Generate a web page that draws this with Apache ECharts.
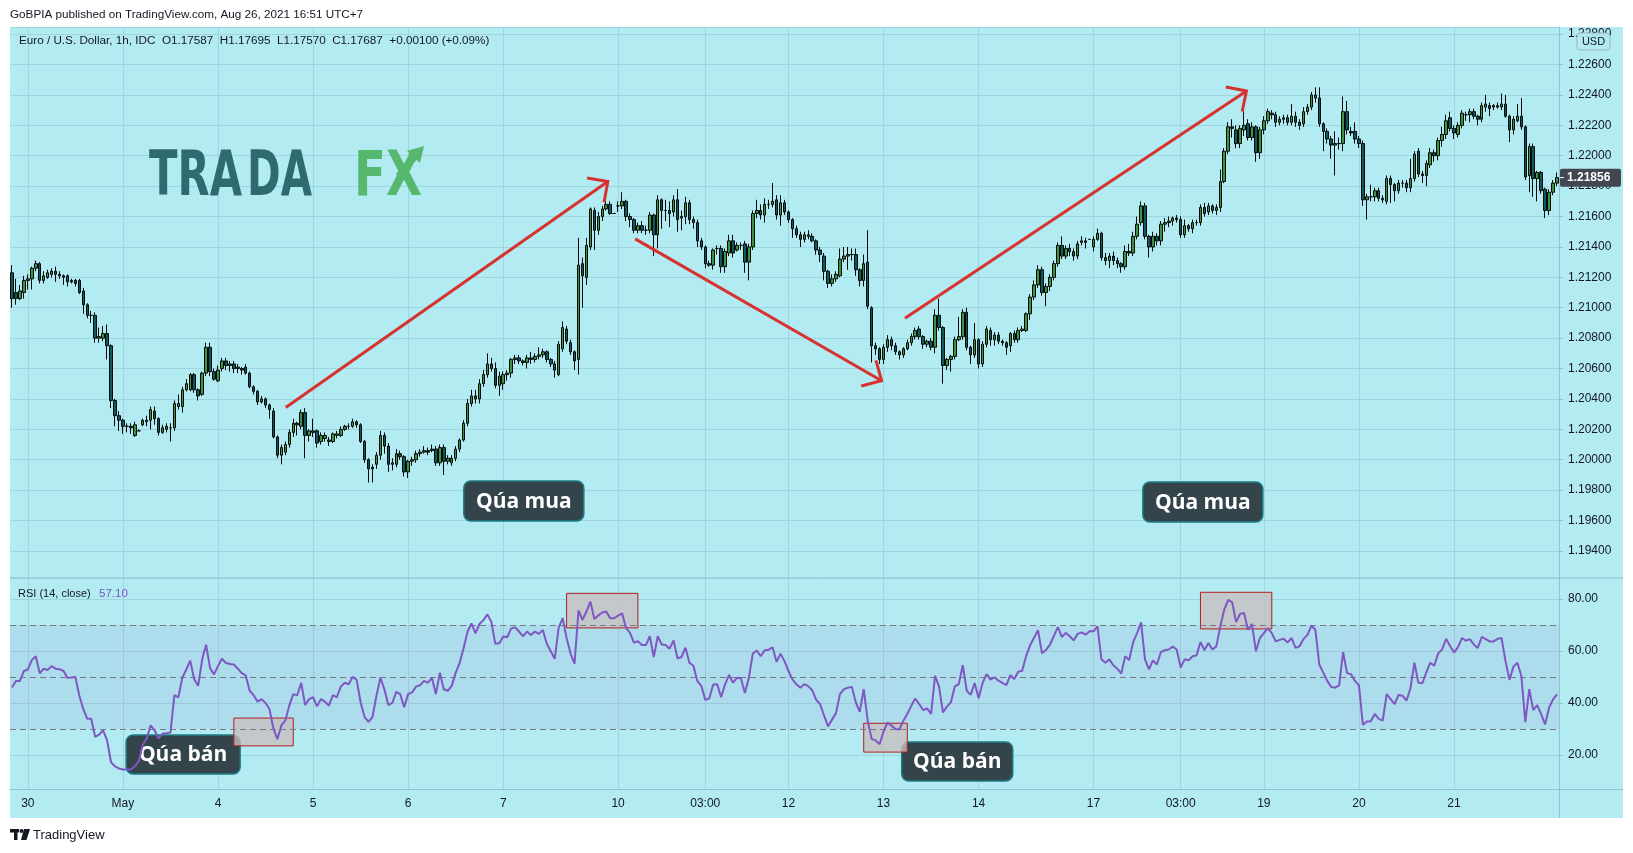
<!DOCTYPE html>
<html><head><meta charset="utf-8">
<script src="https://cdn.jsdelivr.net/npm/echarts@6/dist/echarts.min.js"></script>
<style>html,body{margin:0;padding:0;background:#fff}#c{width:1633px;height:853px}</style>
</head><body><div id="c"></div>
<script>
// ---- sessions (hourly candles, UTC+7) ----
const sessionDates = ['Apr 29','Apr 30','May 1','May 3','May 4','May 5','May 6','May 7','May 8','May 10','May 11','May 12','May 13','May 14','May 15','May 17','May 18','May 19','May 20','May 21','May 22'];
const sessionFirstHour = [20,0,0,5,0,0,0,0,0,5,0,0,0,0,0,5,0,0,0,0,0];
const sessionHours = [4,24,5,19,24,24,24,24,5,19,24,24,24,24,5,19,24,24,24,24,3];

// ---- time axis tick labels ----
const tickTimes = ['Apr 30 00:00','May 1 00:00','May 4 00:00','May 5 00:00','May 6 00:00','May 7 00:00','May 10 05:00','May 11 03:00','May 12 00:00','May 13 00:00','May 14 00:00','May 17 05:00','May 18 03:00','May 19 00:00','May 20 00:00','May 21 00:00'];
const tickTexts = ['30','May','4','5','6','7','10','03:00','12','13','14','17','03:00','19','20','21'];

// ---- EUR/USD 1h candles: [open, close, low, high] ----
const ohlc = [
[1.2123,1.2106,1.2100,1.2128],[1.2110,1.2106,1.2102,1.2119],[1.2106,1.2111,1.2105,1.2115],[1.2110,1.2118,1.2106,1.2121],[1.2118,1.2119,1.2112,1.2122],
[1.2119,1.2126,1.2112,1.2127],[1.2126,1.2129,1.2124,1.2131],[1.2129,1.2118,1.2116,1.2130],[1.2118,1.2121,1.2116,1.2124],[1.2120,1.2123,1.2119,1.2125],
[1.2122,1.2124,1.2120,1.2126],[1.2124,1.2122,1.2117,1.2127],[1.2122,1.2121,1.2119,1.2124],[1.2121,1.2120,1.2115,1.2122],[1.2121,1.2117,1.2114,1.2122],
[1.2117,1.2118,1.2116,1.2119],[1.2118,1.2116,1.2114,1.2119],[1.2118,1.2110,1.2109,1.2119],[1.2111,1.2102,1.2096,1.2113],[1.2102,1.2095,1.2093,1.2103],
[1.2095,1.2095,1.2090,1.2098],[1.2095,1.2080,1.2077,1.2097],[1.2080,1.2081,1.2077,1.2087],[1.2080,1.2083,1.2078,1.2088],[1.2083,1.2075,1.2066,1.2089],
[1.2075,1.2039,1.2034,1.2076],[1.2039,1.2029,1.2022,1.2040],[1.2029,1.2026,1.2019,1.2032],[1.2026,1.2022,1.2017,1.2027],[1.2022,1.2022,1.2018,1.2024],
[1.2022,1.2021,1.2017,1.2024],[1.2016,1.2023,1.2015,1.2025],[1.2019,1.2019,1.2019,1.2020],[1.2023,1.2026,1.2022,1.2027],[1.2026,1.2025,1.2022,1.2029],
[1.2026,1.2033,1.2020,1.2035],[1.2032,1.2027,1.2023,1.2035],[1.2027,1.2018,1.2016,1.2028],[1.2018,1.2021,1.2017,1.2023],[1.2020,1.2022,1.2018,1.2024],
[1.2021,1.2021,1.2012,1.2024],[1.2021,1.2037,1.2019,1.2039],[1.2035,1.2037,1.2033,1.2043],[1.2035,1.2046,1.2031,1.2048],[1.2046,1.2050,1.2045,1.2053],
[1.2046,1.2056,1.2045,1.2057],[1.2056,1.2046,1.2044,1.2057],[1.2046,1.2042,1.2039,1.2047],[1.2043,1.2057,1.2042,1.2058],[1.2057,1.2074,1.2055,1.2077],
[1.2074,1.2058,1.2055,1.2077],[1.2058,1.2053,1.2052,1.2060],[1.2052,1.2059,1.2051,1.2062],[1.2060,1.2065,1.2058,1.2067],[1.2065,1.2062,1.2059,1.2067],
[1.2062,1.2063,1.2058,1.2065],[1.2063,1.2060,1.2057,1.2065],[1.2060,1.2061,1.2057,1.2063],[1.2060,1.2059,1.2056,1.2061],[1.2061,1.2057,1.2056,1.2063],
[1.2057,1.2048,1.2047,1.2058],[1.2048,1.2045,1.2043,1.2049],[1.2045,1.2038,1.2036,1.2046],[1.2038,1.2040,1.2037,1.2042],[1.2040,1.2036,1.2034,1.2041],
[1.2036,1.2033,1.2027,1.2037],[1.2032,1.2015,1.2014,1.2034],[1.2015,1.2003,1.2001,1.2016],[1.2003,1.2008,1.1997,1.2010],[1.2005,1.2010,1.2003,1.2012],
[1.2010,1.2018,1.2008,1.2020],[1.2018,1.2024,1.2015,1.2027],[1.2024,1.2023,1.2016,1.2025],[1.2022,1.2031,1.2020,1.2033],[1.2031,1.2016,1.2001,1.2034],
[1.2016,1.2019,1.2012,1.2020],[1.2019,1.2018,1.2015,1.2027],[1.2019,1.2011,1.2008,1.2020],[1.2012,1.2016,1.2010,1.2018],[1.2014,1.2016,1.2012,1.2018],
[1.2013,1.2012,1.2009,1.2015],[1.2012,1.2017,1.2011,1.2018],[1.2016,1.2017,1.2014,1.2019],[1.2016,1.2020,1.2015,1.2022],[1.2020,1.2022,1.2019,1.2023],
[1.2022,1.2022,1.2020,1.2024],[1.2022,1.2025,1.2021,1.2027],[1.2025,1.2023,1.2021,1.2026],[1.2023,1.2012,1.2011,1.2024],[1.2012,1.2000,1.1998,1.2013],
[1.2000,1.1994,1.1985,1.2001],[1.1994,1.1995,1.1985,1.1997],[1.1997,1.2003,1.1994,1.2005],[1.2003,1.2016,1.2000,1.2019],[1.2016,1.2009,1.2004,1.2018],
[1.2009,1.1997,1.1992,1.2011],[1.1997,1.1998,1.1993,1.2001],[1.1997,1.2004,1.1995,1.2007],[1.2004,1.2002,1.2000,1.2006],[1.2002,1.1992,1.1989,1.2003],
[1.1992,1.1999,1.1988,1.2000],[1.1999,1.2000,1.1996,1.2002],[1.2000,1.2004,1.1998,1.2006],[1.2004,1.2005,1.2002,1.2007],[1.2005,1.2006,1.2004,1.2009],
[1.2006,1.2005,1.2003,1.2008],[1.2006,1.2007,1.2005,1.2010],[1.2007,1.1998,1.1996,1.2009],[1.1998,1.2008,1.1996,1.2010],[1.2008,1.1999,1.1990,1.2010],
[1.1999,1.2001,1.1997,1.2003],[1.1998,1.2001,1.1996,1.2003],[1.2001,1.2007,1.1999,1.2009],[1.2007,1.2013,1.2005,1.2014],[1.2013,1.2024,1.2012,1.2026],
[1.2024,1.2037,1.2022,1.2040],[1.2037,1.2042,1.2035,1.2046],[1.2042,1.2040,1.2037,1.2046],[1.2040,1.2050,1.2037,1.2053],[1.2050,1.2056,1.2048,1.2059],
[1.2056,1.2063,1.2054,1.2070],[1.2063,1.2060,1.2058,1.2067],[1.2060,1.2049,1.2047,1.2064],[1.2049,1.2055,1.2042,1.2058],[1.2050,1.2056,1.2046,1.2058],
[1.2056,1.2057,1.2052,1.2059],[1.2057,1.2066,1.2054,1.2067],[1.2066,1.2067,1.2063,1.2069],[1.2067,1.2065,1.2063,1.2069],[1.2065,1.2064,1.2062,1.2066],
[1.2064,1.2067,1.2060,1.2069],[1.2067,1.2066,1.2063,1.2071],[1.2066,1.2068,1.2064,1.2070],[1.2068,1.2069,1.2066,1.2074],[1.2069,1.2071,1.2067,1.2073],
[1.2071,1.2066,1.2064,1.2072],[1.2066,1.2063,1.2061,1.2067],[1.2063,1.2059,1.2054,1.2065],[1.2056,1.2076,1.2055,1.2078],[1.2073,1.2087,1.2071,1.2091],
[1.2086,1.2078,1.2076,1.2088],[1.2077,1.2071,1.2069,1.2079],[1.2071,1.2065,1.2059,1.2072],[1.2066,1.2128,1.2056,1.2146],[1.2129,1.2121,1.2100,1.2133],
[1.2120,1.2141,1.2115,1.2146],[1.2140,1.2165,1.2138,1.2166],[1.2164,1.2151,1.2138,1.2166],[1.2151,1.2160,1.2148,1.2163],[1.2160,1.2165,1.2157,1.2167],
[1.2165,1.2168,1.2164,1.2172],[1.2168,1.2162,1.2161,1.2170],[1.2162,1.2162,1.2162,1.2162],[1.2167,1.2167,1.2163,1.2170],[1.2167,1.2170,1.2165,1.2176],
[1.2170,1.2160,1.2157,1.2171],[1.2160,1.2158,1.2153,1.2162],[1.2158,1.2151,1.2149,1.2159],[1.2151,1.2154,1.2149,1.2156],[1.2154,1.2151,1.2149,1.2157],
[1.2151,1.2151,1.2148,1.2154],[1.2151,1.2161,1.2149,1.2163],[1.2161,1.2148,1.2134,1.2162],[1.2148,1.2171,1.2139,1.2174],[1.2171,1.2164,1.2152,1.2172],
[1.2164,1.2164,1.2157,1.2171],[1.2164,1.2162,1.2153,1.2170],[1.2163,1.2171,1.2160,1.2174],[1.2171,1.2158,1.2150,1.2178],[1.2159,1.2160,1.2151,1.2164],
[1.2160,1.2169,1.2155,1.2173],[1.2169,1.2158,1.2155,1.2171],[1.2158,1.2156,1.2152,1.2160],[1.2156,1.2144,1.2140,1.2158],[1.2144,1.2140,1.2138,1.2146],
[1.2140,1.2129,1.2126,1.2141],[1.2129,1.2128,1.2127,1.2131],[1.2128,1.2138,1.2125,1.2139],[1.2139,1.2139,1.2135,1.2141],[1.2139,1.2127,1.2123,1.2141],
[1.2127,1.2137,1.2123,1.2139],[1.2136,1.2144,1.2134,1.2148],[1.2144,1.2136,1.2133,1.2148],[1.2138,1.2141,1.2137,1.2143],[1.2141,1.2141,1.2138,1.2143],
[1.2142,1.2130,1.2123,1.2144],[1.2130,1.2140,1.2118,1.2142],[1.2140,1.2162,1.2138,1.2164],[1.2162,1.2164,1.2159,1.2171],[1.2164,1.2161,1.2158,1.2168],
[1.2161,1.2168,1.2156,1.2172],[1.2168,1.2168,1.2165,1.2171],[1.2168,1.2170,1.2166,1.2182],[1.2171,1.2161,1.2158,1.2174],[1.2161,1.2169,1.2154,1.2174],
[1.2169,1.2163,1.2161,1.2171],[1.2163,1.2158,1.2156,1.2164],[1.2158,1.2152,1.2146,1.2159],[1.2152,1.2148,1.2146,1.2154],[1.2148,1.2145,1.2140,1.2150],
[1.2145,1.2148,1.2143,1.2150],[1.2147,1.2148,1.2145,1.2151],[1.2147,1.2144,1.2143,1.2149],[1.2144,1.2138,1.2135,1.2145],[1.2138,1.2135,1.2130,1.2140],
[1.2134,1.2124,1.2118,1.2136],[1.2124,1.2116,1.2113,1.2125],[1.2116,1.2119,1.2114,1.2122],[1.2119,1.2122,1.2117,1.2124],[1.2121,1.2132,1.2120,1.2139],
[1.2132,1.2134,1.2130,1.2140],[1.2134,1.2135,1.2125,1.2140],[1.2135,1.2135,1.2131,1.2139],[1.2135,1.2125,1.2121,1.2139],[1.2125,1.2118,1.2114,1.2126],
[1.2118,1.2129,1.2114,1.2135],[1.2130,1.2101,1.2099,1.2151],[1.2100,1.2075,1.2064,1.2101],[1.2075,1.2073,1.2069,1.2077],[1.2073,1.2066,1.2063,1.2074],
[1.2066,1.2074,1.2063,1.2076],[1.2074,1.2079,1.2071,1.2082],[1.2079,1.2075,1.2072,1.2081],[1.2075,1.2071,1.2069,1.2077],[1.2071,1.2069,1.2066,1.2072],
[1.2069,1.2073,1.2067,1.2074],[1.2073,1.2077,1.2072,1.2079],[1.2077,1.2081,1.2075,1.2083],[1.2081,1.2085,1.2079,1.2087],[1.2086,1.2081,1.2079,1.2088],
[1.2081,1.2076,1.2073,1.2082],[1.2076,1.2078,1.2074,1.2079],[1.2078,1.2074,1.2072,1.2080],[1.2074,1.2095,1.2070,1.2099],[1.2095,1.2087,1.2085,1.2106],
[1.2087,1.2062,1.2050,1.2088],[1.2062,1.2066,1.2059,1.2067],[1.2066,1.2068,1.2058,1.2069],[1.2068,1.2079,1.2066,1.2081],[1.2079,1.2081,1.2078,1.2094],
[1.2081,1.2097,1.2079,1.2099],[1.2097,1.2074,1.2072,1.2100],[1.2074,1.2069,1.2063,1.2075],[1.2069,1.2079,1.2067,1.2090],[1.2079,1.2063,1.2060,1.2080],
[1.2063,1.2076,1.2061,1.2078],[1.2076,1.2086,1.2074,1.2088],[1.2085,1.2079,1.2075,1.2087],[1.2079,1.2082,1.2075,1.2084],[1.2082,1.2078,1.2076,1.2084],
[1.2078,1.2077,1.2075,1.2079],[1.2077,1.2074,1.2069,1.2078],[1.2075,1.2083,1.2071,1.2084],[1.2083,1.2079,1.2077,1.2085],[1.2079,1.2085,1.2077,1.2087],
[1.2085,1.2086,1.2084,1.2088],[1.2085,1.2096,1.2084,1.2097],[1.2096,1.2107,1.2092,1.2109],[1.2107,1.2115,1.2105,1.2118],[1.2115,1.2125,1.2113,1.2128],
[1.2125,1.2110,1.2108,1.2127],[1.2110,1.2114,1.2101,1.2116],[1.2114,1.2120,1.2111,1.2122],[1.2120,1.2129,1.2118,1.2131],[1.2129,1.2141,1.2127,1.2143],
[1.2141,1.2134,1.2132,1.2147],[1.2134,1.2139,1.2132,1.2141],[1.2139,1.2137,1.2134,1.2142],[1.2137,1.2134,1.2131,1.2139],[1.2134,1.2142,1.2132,1.2144],
[1.2143,1.2144,1.2141,1.2147],[1.2144,1.2143,1.2139,1.2146],[1.2145,1.2145,1.2145,1.2145],[1.2140,1.2145,1.2137,1.2147],[1.2145,1.2149,1.2144,1.2152],
[1.2149,1.2133,1.2131,1.2150],[1.2133,1.2131,1.2128,1.2136],[1.2131,1.2134,1.2126,1.2136],[1.2134,1.2131,1.2128,1.2137],[1.2131,1.2129,1.2126,1.2133],
[1.2129,1.2127,1.2123,1.2130],[1.2127,1.2137,1.2125,1.2141],[1.2137,1.2136,1.2134,1.2142],[1.2136,1.2147,1.2134,1.2150],[1.2147,1.2155,1.2145,1.2160],
[1.2156,1.2167,1.2154,1.2170],[1.2167,1.2147,1.2145,1.2169],[1.2147,1.2140,1.2133,1.2148],[1.2140,1.2147,1.2137,1.2150],[1.2147,1.2144,1.2141,1.2149],
[1.2144,1.2155,1.2141,1.2157],[1.2155,1.2156,1.2150,1.2159],[1.2156,1.2157,1.2153,1.2160],[1.2157,1.2159,1.2154,1.2160],[1.2159,1.2158,1.2156,1.2161],
[1.2158,1.2148,1.2146,1.2160],[1.2148,1.2154,1.2146,1.2158],[1.2154,1.2152,1.2150,1.2155],[1.2152,1.2156,1.2149,1.2158],[1.2156,1.2156,1.2154,1.2158],
[1.2156,1.2166,1.2154,1.2168],[1.2166,1.2162,1.2160,1.2169],[1.2163,1.2167,1.2161,1.2169],[1.2167,1.2164,1.2162,1.2168],[1.2164,1.2166,1.2161,1.2168],
[1.2166,1.2183,1.2163,1.2191],[1.2183,1.2203,1.2182,1.2205],[1.2203,1.2219,1.2201,1.2222],[1.2219,1.2218,1.2212,1.2224],[1.2217,1.2208,1.2205,1.2220],
[1.2208,1.2218,1.2205,1.2220],[1.2217,1.2220,1.2213,1.2234],[1.2221,1.2212,1.2210,1.2224],[1.2212,1.2219,1.2210,1.2222],[1.2219,1.2202,1.2196,1.2220],
[1.2202,1.2217,1.2198,1.2219],[1.2217,1.2223,1.2214,1.2226],[1.2223,1.2229,1.2221,1.2231],[1.2228,1.2227,1.2224,1.2230],[1.2227,1.2222,1.2219,1.2229],
[1.2222,1.2224,1.2220,1.2226],[1.2224,1.2225,1.2221,1.2227],[1.2225,1.2222,1.2220,1.2227],[1.2222,1.2226,1.2220,1.2234],[1.2226,1.2222,1.2219,1.2229],
[1.2222,1.2220,1.2217,1.2224],[1.2221,1.2229,1.2219,1.2232],[1.2229,1.2232,1.2227,1.2234],[1.2232,1.2240,1.2230,1.2242],[1.2238,1.2240,1.2235,1.2245],
[1.2238,1.2221,1.2219,1.2245],[1.2221,1.2216,1.2203,1.2222],[1.2216,1.2211,1.2208,1.2218],[1.2211,1.2207,1.2198,1.2213],[1.2207,1.2208,1.2187,1.2216],
[1.2208,1.2208,1.2204,1.2212],[1.2208,1.2229,1.2203,1.2239],[1.2229,1.2217,1.2214,1.2236],[1.2216,1.2215,1.2213,1.2219],[1.2216,1.2211,1.2208,1.2222],
[1.2211,1.2208,1.2205,1.2213],[1.2208,1.2171,1.2167,1.2210],[1.2171,1.2173,1.2158,1.2175],[1.2173,1.2173,1.2170,1.2181],[1.2173,1.2177,1.2170,1.2179],
[1.2177,1.2172,1.2170,1.2179],[1.2172,1.2171,1.2169,1.2174],[1.2170,1.2185,1.2168,1.2187],[1.2185,1.2181,1.2169,1.2187],[1.2181,1.2177,1.2170,1.2182],
[1.2177,1.2182,1.2175,1.2184],[1.2182,1.2182,1.2179,1.2184],[1.2182,1.2179,1.2176,1.2184],[1.2179,1.2185,1.2176,1.2198],[1.2185,1.2201,1.2183,1.2203],
[1.2203,1.2188,1.2186,1.2205],[1.2188,1.2187,1.2182,1.2190],[1.2187,1.2195,1.2180,1.2197],[1.2194,1.2202,1.2192,1.2205],[1.2202,1.2200,1.2196,1.2204],
[1.2200,1.2210,1.2197,1.2212],[1.2210,1.2214,1.2206,1.2219],[1.2214,1.2223,1.2211,1.2227],[1.2225,1.2218,1.2216,1.2229],[1.2218,1.2215,1.2211,1.2220],
[1.2214,1.2220,1.2212,1.2222],[1.2220,1.2228,1.2218,1.2230],[1.2227,1.2227,1.2223,1.2229],[1.2227,1.2229,1.2222,1.2231],[1.2229,1.2226,1.2224,1.2231],
[1.2226,1.2224,1.2220,1.2227],[1.2224,1.2233,1.2222,1.2235],[1.2232,1.2234,1.2229,1.2240],[1.2233,1.2231,1.2226,1.2235],[1.2232,1.2233,1.2230,1.2234],
[1.2232,1.2233,1.2231,1.2235],[1.2232,1.2234,1.2230,1.2241],[1.2234,1.2226,1.2225,1.2240],[1.2226,1.2217,1.2209,1.2227],[1.2217,1.2224,1.2214,1.2226],
[1.2223,1.2226,1.2222,1.2234],[1.2226,1.2219,1.2217,1.2238],[1.2219,1.2186,1.2184,1.2220],[1.2187,1.2206,1.2176,1.2208],[1.2206,1.2185,1.2173,1.2208],
[1.2185,1.2189,1.2170,1.2190],[1.2189,1.2177,1.2175,1.2190],[1.2178,1.2164,1.2159,1.2179],[1.2164,1.2176,1.2161,1.2178],[1.2176,1.2182,1.2174,1.2184],
[1.2182,1.21856,1.2180,1.2189]
];

// ---- RSI(14, close) ----
const rsi = [
46.0,48.5,48.5,52.3,52.9,56.5,58.0,51.4,53.2,52.7,54.2,53.2,53.0,52.3,49.7,49.8,50.0,42.8,37.7,33.9,
33.9,27.0,27.8,29.5,25.7,17.2,15.6,14.8,14.4,14.4,14.4,15.6,17.5,23.8,26.3,31.4,29.5,26.3,28.2,28.4,
28.6,43.0,42.2,49.7,52.9,56.3,49.1,46.6,56.7,62.4,53.5,51.0,54.2,57.0,55.4,55.0,54.8,53.2,51.5,50.6,
44.7,43.0,40.5,41.5,40.0,37.7,30.1,26.1,31.4,33.3,39.0,43.4,43.0,47.8,39.2,41.5,42.2,38.7,41.5,40.5,
39.0,43.0,42.2,46.3,47.8,47.2,50.1,48.9,40.3,34.6,32.7,34.6,42.8,49.7,45.3,39.2,40.0,44.3,43.4,38.4,
43.4,44.1,46.3,46.8,48.5,47.8,49.7,43.4,51.6,45.3,44.7,46.6,51.6,55.4,61.1,67.5,70.6,66.8,70.4,71.9,
74.1,71.3,62.8,63.0,65.6,65.3,68.7,69.1,67.5,65.6,67.5,66.2,67.5,66.6,68.1,62.8,59.9,57.0,69.0,72.7,
65.0,59.0,55.1,75.6,72.0,75.2,79.0,72.3,73.7,74.8,75.2,72.6,72.6,73.6,74.5,68.9,67.0,63.2,63.8,62.3,
62.3,65.7,57.7,65.7,62.5,62.3,60.9,64.1,57.1,57.7,61.3,55.5,54.3,48.5,46.6,41.2,41.7,47.1,47.2,42.2,
47.2,50.8,47.8,49.7,49.5,43.8,49.7,59.0,60.2,58.0,60.3,60.5,61.4,55.8,59.0,56.1,52.3,49.1,47.2,45.9,
47.2,46.5,44.9,41.2,39.5,35.1,31.0,33.6,36.1,43.4,45.3,45.9,46.2,40.2,36.6,45.3,33.2,26.2,25.6,24.1,
29.0,32.5,31.3,30.0,29.8,33.2,35.8,38.9,41.7,39.6,37.3,37.9,35.8,50.4,46.4,36.4,38.6,40.3,46.4,47.3,
54.6,44.7,43.1,47.7,41.8,47.7,51.1,49.0,49.9,48.6,47.7,46.9,50.7,49.2,52.0,52.4,58.1,62.2,65.1,68.0,
59.1,60.4,62.4,65.8,69.2,65.4,67.0,65.7,64.1,66.6,67.2,66.3,67.6,67.6,69.5,56.8,55.5,56.8,54.5,53.2,
51.3,58.0,56.5,63.4,66.9,71.0,56.8,52.9,56.4,54.8,59.6,60.3,60.6,61.7,60.6,53.6,56.8,56.4,58.0,58.3,
63.5,60.3,63.1,60.6,61.8,69.5,75.9,79.7,78.7,71.1,74.3,74.6,68.2,70.4,59.9,65.0,66.9,68.8,66.9,63.7,
64.3,64.7,63.3,65.0,61.2,61.8,64.6,66.2,69.7,68.2,54.8,51.7,48.5,46.2,45.9,46.8,59.6,51.5,51.1,48.5,
46.8,31.6,32.9,33.0,35.8,33.9,33.2,43.4,41.5,39.6,43.1,42.8,40.9,45.6,55.5,47.8,47.6,51.7,55.5,54.3,
59.1,60.6,64.7,61.9,59.4,61.5,65.0,64.0,64.6,62.5,61.2,65.4,64.6,63.7,63.7,64.7,65.0,56.1,48.9,54.0,
55.5,50.4,32.6,45.3,37.3,39.2,35.7,31.8,38.2,41.4,43.3
];

// ---- annotations (in data space: [candle index, value]) ----
const arrowsFrom = [[69.1, 1.20344],[157.3, 1.21453],[225.4, 1.20931]];
const arrowsTo   = [[150.4, 1.21830],[219.5, 1.20520],[311.6, 1.22426]];
const rsiBoxes = [[56, 34.2, 71, 23.5],[140, 82.2, 158, 68.9],[215, 32.2, 226, 21.1],[300, 82.6, 318, 68.5]];
const priceTags = [{text:'Qúa mua', at:[129.2, 1.19729], w:120, h:40},{text:'Qúa mua', at:[300.6, 1.19722], w:120, h:40}];
const rsiTags = [{text:'Qúa bán', at:[43.2, 20.2], w:114, h:39},{text:'Qúa bán', at:[238.6, 17.5], w:111, h:39}];
const rsiLevels = [70, 50, 30];

// ---- build categories ----
const categories = [];
sessionDates.forEach((d, k) => {
  for (let h = 0; h < sessionHours[k]; h++) {
    const hh = sessionFirstHour[k] + h;
    categories.push(d + ' ' + (hh < 10 ? '0' : '') + hh + ':00');
  }
});
const tickMap = {};
tickTimes.forEach((t, i) => { tickMap[t] = tickTexts[i]; });
const isTick = (i, v) => tickMap[v] !== undefined;

const BG = '#b2ebf2', GRID = '#9fd5de', SEP = '#8cc5ce', TXT = '#131722';
const FONT = '"Liberation Sans", Arial, sans-serif';

const chart = echarts.init(document.getElementById('c'));
const option = {
  animation: false,
  backgroundColor: '#ffffff',
  textStyle: { fontFamily: FONT },
  grid: [
    { left: 10, top: 27, width: 1549, height: 551 },
    { left: 10, top: 578, width: 1549, height: 211 }
  ],
  xAxis: [
    { type: 'category', gridIndex: 0, data: categories, boundaryGap: true,
      axisLine: { show: false }, axisTick: { show: false }, axisLabel: { show: false },
      splitLine: { show: true, interval: isTick, alignWithLabel: true, lineStyle: { color: GRID, width: 1 } } },
    { type: 'category', gridIndex: 1, data: categories, boundaryGap: true,
      axisLine: { show: true, lineStyle: { color: SEP, width: 1 } }, axisTick: { show: false },
      axisLabel: { show: true, interval: isTick, formatter: v => tickMap[v] || '', color: TXT, fontSize: 12, margin: 9, fontFamily: FONT },
      splitLine: { show: true, interval: isTick, alignWithLabel: true, lineStyle: { color: GRID, width: 1 } } }
  ],
  yAxis: [
    { type: 'value', gridIndex: 0, position: 'right', min: 1.19222, max: 1.22847, splitNumber: 18, scale: true,
      axisLine: { show: true, lineStyle: { color: SEP } },
      axisTick: { show: true, length: 4, lineStyle: { color: SEP } },
      axisLabel: { color: TXT, fontSize: 12, margin: 9, fontFamily: FONT, showMinLabel: false, showMaxLabel: false,
        formatter: v => Math.abs(v / 0.002 - Math.round(v / 0.002)) < 1e-6 ? v.toFixed(5) : '' },
      splitLine: { show: true, lineStyle: { color: GRID, width: 1 } } },
    { type: 'value', gridIndex: 1, position: 'right', min: 6.9, max: 88.1, splitNumber: 4,
      axisLine: { show: true, lineStyle: { color: SEP } },
      axisTick: { show: true, length: 4, lineStyle: { color: SEP } },
      axisLabel: { color: TXT, fontSize: 12, margin: 9, fontFamily: FONT, showMinLabel: false, showMaxLabel: false,
        formatter: v => (Math.abs(v % 20) < 1e-6 ? v.toFixed(2) : '') },
      splitLine: { show: true, lineStyle: { color: GRID, width: 1 } } }
  ],
  series: [
    { type: 'candlestick', xAxisIndex: 0, yAxisIndex: 0, data: ohlc, barWidth: 3,
      itemStyle: { color: '#3a9440', color0: '#0b5a5e', borderColor: '#0a0a0a', borderColor0: '#0a0a0a', borderWidth: 1 } },
    { type: 'line', xAxisIndex: 1, yAxisIndex: 1, data: rsi, symbol: 'none', z: 5,
      lineStyle: { color: '#7e57c2', width: 2 },
      markLine: { silent: true, symbol: 'none', label: { show: false },
        lineStyle: { color: '#787b86', type: [6, 4], width: 1 },
        data: rsiLevels.map(v => ({ yAxis: v })) },
      markArea: { silent: true, label: { show: false },
        data: [[{ yAxis: 30, itemStyle: { color: 'rgba(126,87,194,0.09)' } }, { yAxis: 70 }]].concat(
          rsiBoxes.map(b => [{ coord: [b[0], b[1]], itemStyle: { color: 'rgba(200,190,192,0.78)', borderColor: '#b31d1d', borderWidth: 1 } }, { coord: [b[2], b[3]] }])) } }
  ]
};
chart.setOption(option);

function pt(g, idx, v) {
  const i0 = Math.floor(idx);
  const a = chart.convertToPixel({ gridIndex: g }, [i0, v]);
  const b = chart.convertToPixel({ gridIndex: g }, [i0 + 1, v]);
  return [a[0] + (b[0] - a[0]) * (idx - i0), a[1]];
}
const RED = '#d8322f';
function arrowEls(p0, p1) {
  const ang = Math.atan2(p0[1] - p1[1], p0[0] - p1[0]);
  const L = 21, s = 0.78;
  const a1 = [p1[0] + L * Math.cos(ang + s), p1[1] + L * Math.sin(ang + s)];
  const a2 = [p1[0] + L * Math.cos(ang - s), p1[1] + L * Math.sin(ang - s)];
  return [
    { type: 'polyline', z: 40, silent: true, shape: { points: [p0, p1] }, style: { stroke: RED, lineWidth: 3, fill: null } },
    { type: 'polyline', z: 40, silent: true, shape: { points: [a1, p1, a2] }, style: { stroke: RED, lineWidth: 3, fill: null, lineJoin: 'miter' } }
  ];
}
function tagEl(c, w, h, text) {
  return { type: 'group', x: c[0], y: c[1], z: 50, silent: true, children: [
    { type: 'rect', shape: { x: -w / 2, y: -h / 2, width: w, height: h, r: 7 }, style: { fill: '#33444a', stroke: '#1c7c84', lineWidth: 1.5 } },
    { type: 'text', x: 0, y: 1, style: { text: text, align: 'center', verticalAlign: 'middle', fill: '#ffffff', fontSize: 21, fontWeight: 'bold', fontFamily: '"Open Sans", "Noto Sans", sans-serif' } }
  ] };
}
// measure helper for logo
const mctx = document.createElement('canvas').getContext('2d');
function fitScale(text, font, target) { mctx.font = font; return target / mctx.measureText(text).width; }
const LOGO_FONT = 'bold 62px "DejaVu Sans"';

const g = [];
g.push({ type: 'rect', z: -100, silent: true, shape: { x: 10, y: 27, width: 1613, height: 791 }, style: { fill: BG } });
g.push({ type: 'line', z: 30, silent: true, shape: { x1: 10, y1: 578, x2: 1623, y2: 578 }, style: { stroke: SEP, lineWidth: 1 } });
g.push({ type: 'line', z: 30, silent: true, shape: { x1: 1559.5, y1: 27, x2: 1559.5, y2: 818 }, style: { stroke: SEP, lineWidth: 1 } });
g.push({ type: 'line', z: 30, silent: true, shape: { x1: 1559, y1: 789.5, x2: 1623, y2: 789.5 }, style: { stroke: SEP, lineWidth: 1 } });
// header texts
g.push({ type: 'text', x: 10, y: 15, silent: true, style: { text: 'GoBPIA published on TradingView.com, Aug 26, 2021 16:51 UTC+7', fill: TXT, fontSize: 11.7, fontFamily: FONT, verticalAlign: 'middle' } });
g.push({ type: 'text', x: 19, y: 41, z: 60, silent: true, style: { text: 'Euro / U.S. Dollar, 1h, IDC  O1.17587  H1.17695  L1.17570  C1.17687  +0.00100 (+0.09%)', fill: TXT, fontSize: 11.7, fontFamily: FONT, verticalAlign: 'middle' } });
g.push({ type: 'text', x: 18, y: 594, z: 60, silent: true, style: { text: 'RSI (14, close)', fill: TXT, fontSize: 11, fontFamily: FONT, verticalAlign: 'middle' } });
g.push({ type: 'text', x: 99, y: 594, z: 60, silent: true, style: { text: '57.10', fill: '#7e57c2', fontSize: 11.5, fontFamily: FONT, verticalAlign: 'middle' } });
// logo
const sT = fitScale('TRA', LOGO_FONT, 93), sD = fitScale('DA', LOGO_FONT, 65), sF = fitScale('FX', LOGO_FONT, 68);
g.push({ type: 'text', x: 149, y: 179, scaleX: sT, silent: true, style: { text: 'TRA', font: LOGO_FONT, fill: '#2e6b70', verticalAlign: 'middle' } });
g.push({ type: 'text', x: 247, y: 179, scaleX: sD, silent: true, style: { text: 'DA', font: LOGO_FONT, fill: '#2e6b70', verticalAlign: 'middle' } });
g.push({ type: 'text', x: 354, y: 179, scaleX: sF, silent: true, style: { text: 'FX', font: LOGO_FONT, fill: '#56b86c', verticalAlign: 'middle' } });
g.push({ type: 'polyline', silent: true, shape: { points: [[398, 176], [418, 154]] }, style: { stroke: '#56b86c', lineWidth: 6, fill: null } });
g.push({ type: 'polygon', silent: true, shape: { points: [[424, 146], [407, 151], [420, 163]] }, style: { fill: '#56b86c' } });
// arrows
arrowsFrom.forEach((f, i) => { arrowEls(pt(0, f[0], f[1]), pt(0, arrowsTo[i][0], arrowsTo[i][1])).forEach(e => g.push(e)); });
// tags
priceTags.forEach(t => g.push(tagEl(pt(0, t.at[0], t.at[1]), t.w, t.h, t.text)));
rsiTags.forEach(t => g.push(tagEl(pt(1, t.at[0], t.at[1]), t.w, t.h, t.text)));
// last price tag
const lastClose = ohlc[ohlc.length - 1][1];
const ly = pt(0, ohlc.length - 1, lastClose)[1];
g.push({ type: 'rect', z: 60, silent: true, shape: { x: 1560, y: ly - 9, width: 61, height: 18, r: 2 }, style: { fill: '#434651' } });
g.push({ type: 'line', z: 61, silent: true, shape: { x1: 1560, y1: ly, x2: 1564, y2: ly }, style: { stroke: '#ffffff', lineWidth: 1 } });
g.push({ type: 'text', x: 1567, y: ly + 0.5, z: 61, silent: true, style: { text: lastClose.toFixed(5), fill: '#ffffff', fontSize: 12, fontWeight: 'bold', fontFamily: FONT, verticalAlign: 'middle' } });
// USD badge
g.push({ type: 'rect', z: 60, silent: true, shape: { x: 1577, y: 33, width: 33, height: 17, r: 3 }, style: { fill: 'rgba(178,235,242,0.92)', stroke: '#9fb3b8', lineWidth: 1 } });
g.push({ type: 'text', x: 1593.5, y: 42, z: 61, silent: true, style: { text: 'USD', fill: TXT, fontSize: 11, fontFamily: FONT, align: 'center', verticalAlign: 'middle' } });
// footer TradingView logo
g.push({ type: 'rect', silent: true, shape: { x: 10, y: 829, width: 9, height: 3.5 }, style: { fill: '#131722' } });
g.push({ type: 'rect', silent: true, shape: { x: 14, y: 829, width: 3.5, height: 11 }, style: { fill: '#131722' } });
g.push({ type: 'circle', silent: true, shape: { cx: 21.5, cy: 831, r: 2 }, style: { fill: '#131722' } });
g.push({ type: 'polygon', silent: true, shape: { points: [[24, 829], [30, 829], [26.5, 840], [21, 840]] }, style: { fill: '#131722' } });
g.push({ type: 'text', x: 33, y: 835, silent: true, style: { text: 'TradingView', fill: TXT, fontSize: 13, fontFamily: FONT, verticalAlign: 'middle' } });

chart.setOption({ graphic: { elements: g } });
</script></body></html>
